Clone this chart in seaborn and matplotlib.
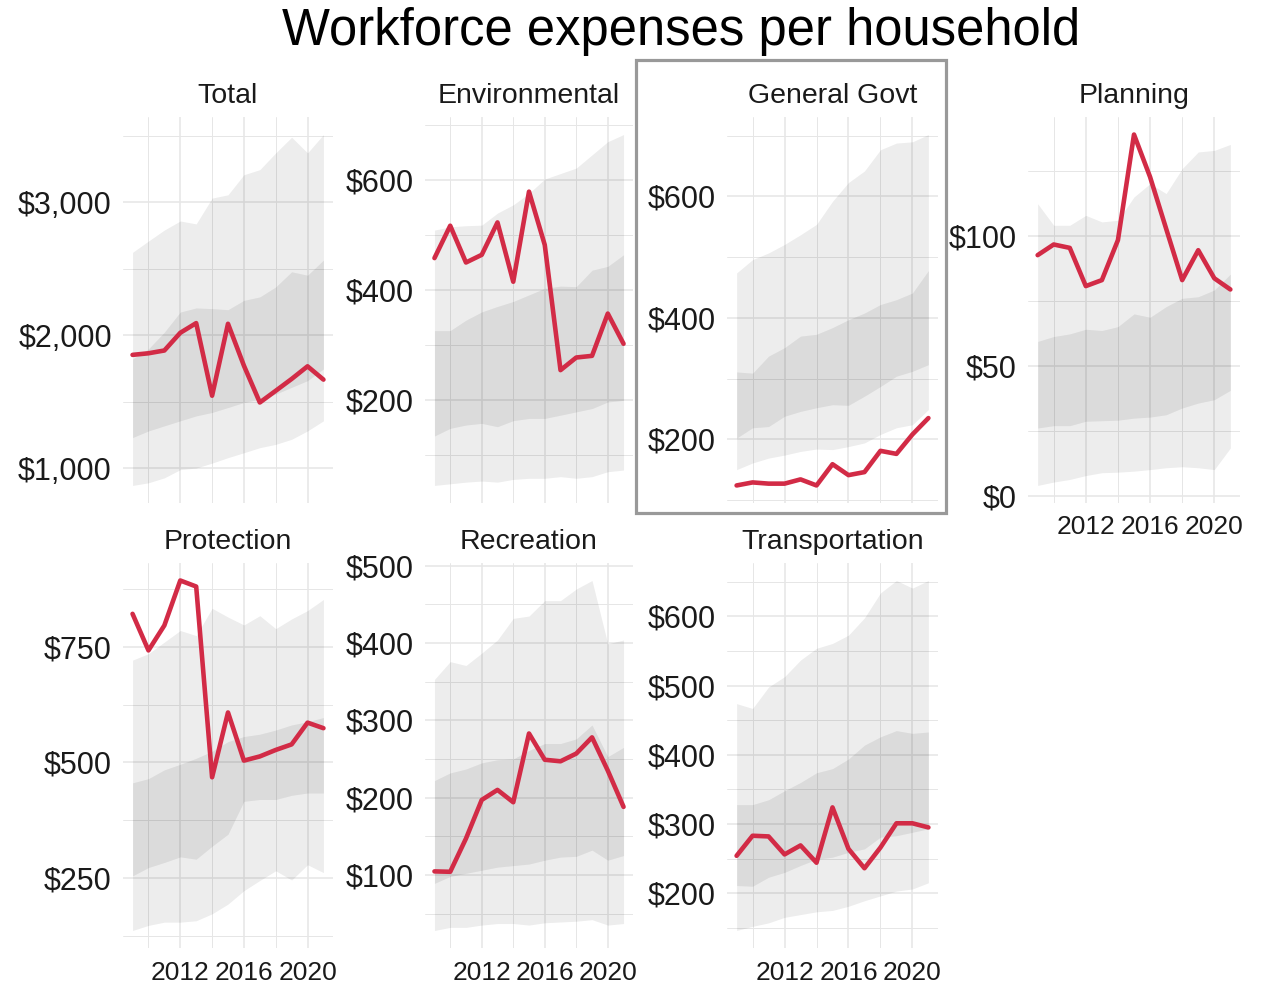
import matplotlib.pyplot as plt
import matplotlib.ticker as mticker
from matplotlib.patches import Rectangle
import numpy as np, pandas as pd
import seaborn as sns

years = list(range(2009, 2022))

categories = ["Total", "Environmental", "General Govt", "Planning",
              "Protection", "Recreation", "Transportation"]

# red line = the city, bands = 10-90 and 25-75 percentile of peers
total_value = [1854, 1866, 1887, 2020, 2093, 1547, 2088, 1773, 1496, 1584, 1673, 1768, 1668]
total_p10 = [872, 892, 929, 991, 1003, 1040, 1081, 1118, 1156, 1181, 1219, 1282, 1358]
total_p90 = [2625, 2710, 2793, 2861, 2839, 3033, 3058, 3209, 3247, 3373, 3491, 3373, 3511]
total_p25 = [1232, 1282, 1320, 1358, 1395, 1421, 1458, 1496, 1521, 1559, 1610, 1660, 1748]
total_p75 = [1824, 1899, 2025, 2176, 2207, 2202, 2194, 2264, 2290, 2365, 2479, 2453, 2567]

env_value = [458, 517, 450, 464, 523, 415, 579, 482, 254, 277, 280, 357, 302]
env_p10 = [44, 47, 50, 52, 50, 55, 57, 57, 60, 57, 60, 69, 72]
env_p90 = [509, 515, 517, 518, 540, 555, 576, 602, 612, 622, 646, 670, 683]
env_p25 = [134, 148, 154, 157, 151, 162, 166, 166, 172, 178, 184, 196, 199]
env_p75 = [326, 326, 345, 360, 370, 379, 391, 403, 407, 406, 436, 443, 464]

gov_value = [124, 129, 127, 127, 134, 124, 159, 141, 146, 181, 176, 208, 235]
gov_p10 = [150, 161, 169, 174, 180, 184, 183, 188, 194, 208, 219, 224, 249]
gov_p90 = [474, 496, 507, 521, 537, 554, 592, 623, 642, 677, 688, 690, 702]
gov_p25 = [202, 219, 221, 238, 246, 252, 257, 256, 271, 287, 304, 312, 323]
gov_p75 = [311, 309, 337, 351, 370, 373, 384, 397, 408, 422, 430, 441, 478]

plan_value = [92.7, 96.8, 95.5, 80.8, 83.1, 98.5, 139.1, 122.8, 102.9, 83.1, 94.6, 83.8, 79.5]
plan_p10 = [4.1, 5.4, 6.4, 7.9, 9.0, 9.2, 9.6, 10.2, 10.9, 11.3, 10.9, 10.2, 18.5]
plan_p90 = [112.5, 104.2, 104.2, 108, 105.5, 106.1, 115.1, 120.2, 116.4, 126, 132.4, 133, 135.3]
plan_p25 = [26.2, 27.1, 27.1, 28.8, 29.0, 29.2, 30.0, 30.4, 31.3, 33.9, 35.8, 37.1, 40.7]
plan_p75 = [59.5, 61.4, 62.4, 64.2, 63.7, 65.2, 70.1, 68.8, 72.9, 76.1, 76.7, 79.3, 85.4]

prot_value = [821, 742, 796, 893, 880, 468, 608, 504, 513, 527, 539, 586, 574]
prot_p10 = [137, 148, 155, 155, 158, 173, 194, 223, 245, 266, 246, 279, 262]
prot_p90 = [721, 735, 760, 785, 774, 833, 814, 797, 817, 789, 810, 828, 852]
prot_p25 = [255, 273, 284, 296, 291, 319, 345, 416, 420, 420, 429, 434, 434]
prot_p75 = [456, 465, 484, 496, 509, 524, 545, 556, 561, 570, 581, 588, 597]

rec_value = [104.5, 104, 147, 197, 210, 194, 283, 249, 247, 257, 278, 235, 188]
rec_p10 = [28, 32, 32, 35, 37, 37, 35, 38, 39, 40, 42, 35, 37]
rec_p90 = [353, 376, 371, 387, 404, 432, 435, 455, 455, 470, 481, 399, 404]
rec_p25 = [89, 98, 102, 106, 110, 112, 114, 119, 123, 124, 132, 119, 125]
rec_p75 = [222, 232, 237, 245, 249, 250, 261, 270, 270, 276, 294, 253, 265]

trans_value = [254, 283, 282, 256, 269, 244, 324, 264, 236, 266, 301, 301, 295]
trans_p10 = [146, 152, 157, 165, 169, 173, 175, 181, 189, 196, 203, 206, 215]
trans_p90 = [474, 467, 498, 513, 537, 554, 561, 573, 598, 634, 652, 641, 652]
trans_p25 = [211, 210, 223, 230, 240, 249, 252, 259, 264, 281, 283, 288, 293]
trans_p75 = [328, 328, 335, 348, 360, 374, 380, 394, 414, 426, 435, 431, 433]

series = {
    "Total": (total_value, total_p10, total_p90, total_p25, total_p75),
    "Environmental": (env_value, env_p10, env_p90, env_p25, env_p75),
    "General Govt": (gov_value, gov_p10, gov_p90, gov_p25, gov_p75),
    "Planning": (plan_value, plan_p10, plan_p90, plan_p25, plan_p75),
    "Protection": (prot_value, prot_p10, prot_p90, prot_p25, prot_p75),
    "Recreation": (rec_value, rec_p10, rec_p90, rec_p25, rec_p75),
    "Transportation": (trans_value, trans_p10, trans_p90, trans_p25, trans_p75),
}
y_steps = {"Total": 1000, "Environmental": 200, "General Govt": 200, "Planning": 50,
           "Protection": 250, "Recreation": 100, "Transportation": 100}

sns.set_style("white")
plt.rcParams["font.family"] = ["Liberation Sans", "DejaVu Sans"]

RED = "#D22B46"
TXT = "#1A1A1A"
W, H = 1262, 985
fig = plt.figure(figsize=(W / 100, H / 100), dpi=100)

cols_x = [(123, 333), (425, 633), (727, 938), (1028, 1240)]
rows_y = [(117, 503), (563, 948)]
show_x = {"Planning", "Protection", "Recreation", "Transportation"}

for i, cat in enumerate(categories):
    r, c = divmod(i, 4)
    x0, x1 = cols_x[c]
    y0, y1 = rows_y[r]
    ax = fig.add_axes([x0 / W, 1 - y1 / H, (x1 - x0) / W, (y1 - y0) / H])
    val, p10, p90, p25, p75 = series[cat]
    df = pd.DataFrame({"year": years, "value": val})
    ax.fill_between(years, p10, p90, color="black", alpha=0.07, lw=0, zorder=1)
    ax.fill_between(years, p25, p75, color="black", alpha=0.075, lw=0, zorder=2)
    sns.lineplot(data=df, x="year", y="value", ax=ax, color=RED, lw=3.3, zorder=3)
    ax.margins(x=0.05, y=0.05)

    step = y_steps[cat]
    ax.yaxis.set_major_locator(mticker.MultipleLocator(step))
    ax.yaxis.set_minor_locator(mticker.MultipleLocator(step / 2))
    ax.yaxis.set_major_formatter(mticker.FuncFormatter(lambda v, p: f"${v:,.0f}"))
    ax.xaxis.set_major_locator(mticker.FixedLocator([2012, 2016, 2020]))
    ax.xaxis.set_minor_locator(mticker.FixedLocator([2010, 2014, 2018]))
    ax.grid(which="major", color="#E6E6E6", lw=1.1)
    ax.grid(which="minor", color="#E6E6E6", lw=0.7)
    ax.set_axisbelow(True)
    for s in ax.spines.values():
        s.set_visible(False)
    ax.set_xlabel("")
    ax.set_ylabel("")
    ax.tick_params(axis="y", which="both", length=0, pad=8, labelsize=22, labelcolor=TXT)
    ax.tick_params(axis="x", which="both", length=0, pad=9, labelsize=19, labelcolor=TXT)
    if cat not in show_x:
        ax.set_xticklabels([])
    fig.text((x0 + x1) / 2 / W, 1 - (y0 - 21) / H, cat, ha="center", va="center",
             fontsize=20.5, color=TXT)

fig.text(681 / W, 1 - 32 / H, "Workforce expenses per household", ha="center",
         va="center", fontsize=36.5, color="black")

fig.patches.append(Rectangle((636 / W, 1 - 513 / H), 310 / W, 453 / H,
                             transform=fig.transFigure, fill=False,
                             edgecolor="#999999", lw=2.3))

fig.savefig("out.png", dpi=100)
